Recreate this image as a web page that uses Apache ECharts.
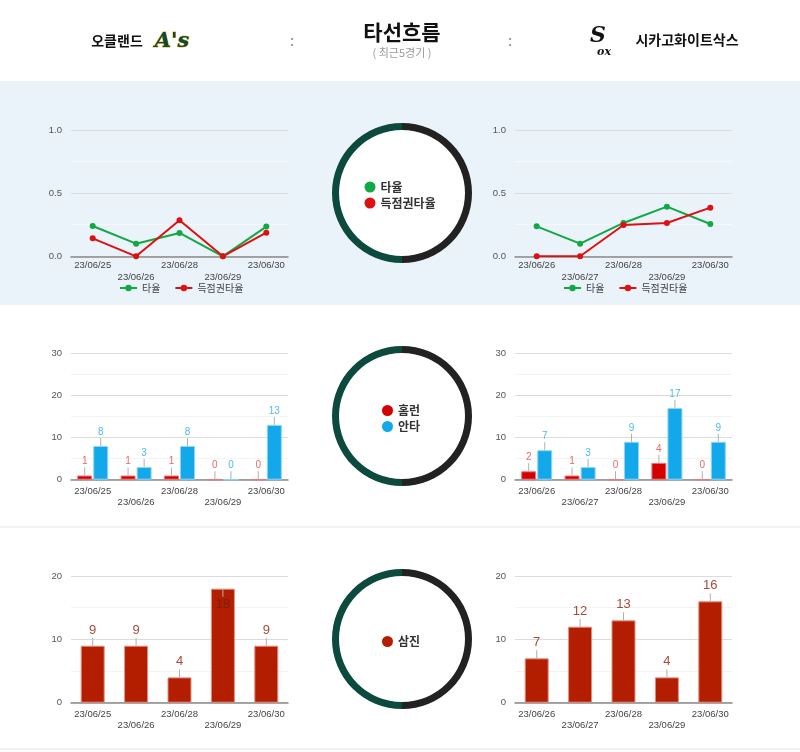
<!DOCTYPE html>
<html><head><meta charset="utf-8">
<script src="https://cdn.jsdelivr.net/npm/echarts@6/dist/echarts.min.js"></script>
<style>html,body{margin:0;padding:0;background:#fff}#c{width:800px;height:752px}</style>
</head><body><div id="c"></div>
<script>
const datesOak = ['23/06/25','23/06/26','23/06/28','23/06/29','23/06/30'];
const datesCws = ['23/06/26','23/06/27','23/06/28','23/06/29','23/06/30'];
const avgOak  = [0.240, 0.100, 0.185, 0.000, 0.235];
const rispOak = [0.142, 0.000, 0.285, 0.000, 0.187];
const avgCws  = [0.237, 0.100, 0.264, 0.393, 0.256];
const rispCws = [0.000, 0.000, 0.248, 0.264, 0.385];
const hrOak   = [1, 1, 1, 0, 0];
const hitsOak = [8, 3, 8, 0, 13];
const hrCws   = [2, 1, 0, 4, 0];
const hitsCws = [7, 3, 9, 17, 9];
const soOak   = [9, 9, 4, 18, 9];
const soCws   = [7, 12, 13, 4, 16];
const ringHalves = [1, 1];

const FONT = '"Liberation Sans", Arial, "Noto Sans CJK KR", sans-serif';
const KFONT = '"Noto Sans CJK KR", "Liberation Sans", sans-serif';
const GREEN = '#12a843', RED = '#dd1111', HRRED = '#d40000', BLUE = '#12a8ea', SO = '#b31e00';

const chart = echarts.init(document.getElementById('c'), null, {renderer: 'canvas'});

const gx = [{left: 71, width: 217}, {left: 515, width: 217}];
const gy = [{top: 130, height: 126.3}, {top: 353.3, height: 126.4}, {top: 576, height: 126.7}];
const grids = [];
for (let r = 0; r < 3; r++) for (let c = 0; c < 2; c++) grids.push({left: gx[c].left, width: gx[c].width, top: gy[r].top, height: gy[r].height});

const yCfg = [{max: 1, interval: 0.25, fmt: v => v.toFixed(1), faint: '#f6f8fa'},
              {max: 30, interval: 5, fmt: v => String(v), faint: '#f3f3f3'},
              {max: 20, interval: 5, fmt: v => String(v), faint: '#f3f3f3'}];
const xMargin = [3.5, 5.5, 5.5];
const xAxes = [], yAxes = [];
for (let r = 0; r < 3; r++) for (let c = 0; c < 2; c++) {
  const i = r * 2 + c;
  xAxes.push({type: 'category', gridIndex: i, data: c === 0 ? datesOak : datesCws, boundaryGap: true,
    axisTick: {show: false}, axisLine: {lineStyle: {color: '#8a8a8a', width: 1.5}},
    axisLabel: {interval: 0, fontSize: 9.5, color: '#444', fontFamily: FONT, margin: xMargin[r], lineHeight: 11.5,
      formatter: (v, idx) => idx % 2 ? '\n' + v : v}});
  const y = yCfg[r];
  yAxes.push({type: 'value', gridIndex: i, min: 0, max: y.max, interval: y.interval,
    axisLine: {show: false}, axisTick: {show: false},
    axisLabel: {fontSize: 9.5, color: '#555', fontFamily: FONT, margin: 9,
      formatter: v => (Math.round(v / y.interval) % 2 === 0 ? y.fmt(v) : '')},
    splitLine: {lineStyle: {color: ['#dcdcdc', y.faint], width: 1}}});
}

function stemLabel(color, size) {
  return {show: true, position: 'top', distance: 0,
    formatter: p => '{v|' + p.value + '}\n{s| }',
    rich: {v: {color: color, fontSize: size, lineHeight: size + 2, fontFamily: FONT, align: 'center'},
           s: {width: 1, height: 8, lineHeight: 8, backgroundColor: '#b0b0b0', align: 'center'}}};
}
function lineSeries(name, data, idx, color) {
  return {type: 'line', name: name, data: data, xAxisIndex: idx, yAxisIndex: idx, symbol: 'circle', symbolSize: 6,
    itemStyle: {color: color}, lineStyle: {color: color, width: 2}, animation: false};
}
function barSeries(name, data, idx, color, border, labColor, size, width, gap) {
  return {type: 'bar', name: name, data: data, xAxisIndex: idx, yAxisIndex: idx, barWidth: width, barGap: gap,
    itemStyle: {color: color, borderColor: border, borderWidth: 1}, label: stemLabel(labColor, size), animation: false};
}
const soOakData = soOak.map((v, i) => v >= 18 ? {value: v, label: {position: 'insideTop', distance: 0,
  formatter: p => '{s| }\n{v|' + p.value + '}', rich: {v: {color: '#7a2010', fontSize: 13, lineHeight: 15, fontFamily: FONT},
  s: {width: 1, height: 8, lineHeight: 8, backgroundColor: '#b0b0b0'}}}} : v);

const series = [
  lineSeries('타율', avgOak, 0, GREEN), lineSeries('득점권타율', rispOak, 0, RED),
  lineSeries('타율', avgCws, 1, GREEN), lineSeries('득점권타율', rispCws, 1, RED),
  barSeries('홈런', hrOak, 2, HRRED, '#ee7777', '#e86a6a', 10, 15, '7%'),
  barSeries('안타', hitsOak, 2, BLUE, '#8fd6f6', '#4cbcef', 10, 15, '7%'),
  barSeries('홈런', hrCws, 3, HRRED, '#ee7777', '#e86a6a', 10, 15, '7%'),
  barSeries('안타', hitsCws, 3, BLUE, '#8fd6f6', '#4cbcef', 10, 15, '7%'),
  barSeries('삼진', soOakData, 4, SO, '#e09080', '#a94a3a', 13, 24, '0%'),
  barSeries('삼진', soCws, 5, SO, '#e09080', '#a94a3a', 13, 24, '0%')
];
const ringCenters = [[402, 193], [402, 416], [402, 639]];
ringCenters.forEach(c => series.push({type: 'pie', center: c, radius: [63, 70], startAngle: 90, silent: true,
  label: {show: false}, labelLine: {show: false}, animation: false,
  data: ringHalves.map((v, i) => ({value: v, itemStyle: {color: i === 0 ? '#222222' : '#0b4a3c'}}))}));

const centerLegend = (names, left, top) => ({data: names, orient: 'vertical', left: left, top: top, icon: 'circle',
  padding: 0, itemWidth: 11, itemHeight: 11, itemGap: 4, selectedMode: false, z: 10,
  itemStyle: {borderWidth: 0},
  textStyle: {fontSize: 12, fontWeight: 'bold', color: '#333', fontFamily: KFONT}});
const lineLegend = (left) => ({data: ['타율', '득점권타율'], orient: 'horizontal', left: left, top: 283,
  padding: 0, itemWidth: 17, itemHeight: 8, itemGap: 14, selectedMode: false,
  textStyle: {fontSize: 10, color: '#444', fontFamily: KFONT}});

const txt = (text, x, y, size, color, weight, font, align) => ({type: 'text', z: 20,
  style: {text: text, x: x, y: y, fontSize: size, fill: color, fontWeight: weight || 'normal',
    fontFamily: font || KFONT, textAlign: align || 'center', textVerticalAlign: 'middle'}});

chart.setOption({
  animation: false,
  grid: grids, xAxis: xAxes, yAxis: yAxes, series: series,
  legend: [centerLegend(['타율', '득점권타율'], 364.5, 181), centerLegend(['홈런', '안타'], 382, 404.5),
           centerLegend(['삼진'], 382, 635.5), lineLegend(119), lineLegend(563)],
  graphic: [
    {type: 'rect', z: -10, shape: {x: 0, y: 81, width: 800, height: 224}, style: {fill: '#eaf2fa'}},
    {type: 'line', z: -9, shape: {x1: 0, y1: 527, x2: 800, y2: 527}, style: {stroke: '#e4e4e4', lineWidth: 1}},
    {type: 'line', z: -9, shape: {x1: 0, y1: 749, x2: 800, y2: 749}, style: {stroke: '#e4e4e4', lineWidth: 1}},
    {type: 'circle', z: 1, shape: {cx: 402, cy: 193, r: 63}, style: {fill: '#ffffff'}},
    {type: 'circle', z: 1, shape: {cx: 402, cy: 416, r: 63}, style: {fill: '#ffffff'}},
    {type: 'circle', z: 1, shape: {cx: 402, cy: 639, r: 63}, style: {fill: '#ffffff'}},
    txt('타선흐름', 402, 32, 21, '#111', 'bold'),
    txt('( 최근5경기 )', 402, 53, 11, '#9a9a9a'),
    txt('오클랜드', 117, 41, 14, '#111', 'bold'),
    txt('시카고화이트삭스', 687, 40, 14, '#111', 'bold'),
    txt(':', 292, 42, 14, '#999', 'bold', FONT),
    txt(':', 510, 42, 14, '#999', 'bold', FONT),
    {type: 'text', z: 20, style: {text: "A's", x: 172, y: 42, fontSize: 21, fontStyle: 'italic', fontWeight: 'bold',
      fontFamily: '"DejaVu Serif", serif', fill: '#0b4a3c', stroke: '#efb21e', lineWidth: 1,
      textAlign: 'center', textVerticalAlign: 'middle'}},
    {type: 'text', z: 20, style: {text: 'S', x: 598, y: 36, fontSize: 22, fontStyle: 'italic', fontWeight: 'bold',
      fontFamily: '"DejaVu Serif", serif', fill: '#111', textAlign: 'center', textVerticalAlign: 'middle'}},
    {type: 'text', z: 20, style: {text: 'ox', x: 604, y: 52, fontSize: 11, fontStyle: 'italic', fontWeight: 'bold',
      fontFamily: '"DejaVu Serif", serif', fill: '#111', textAlign: 'center', textVerticalAlign: 'middle'}}
  ]
});
</script></body></html>
